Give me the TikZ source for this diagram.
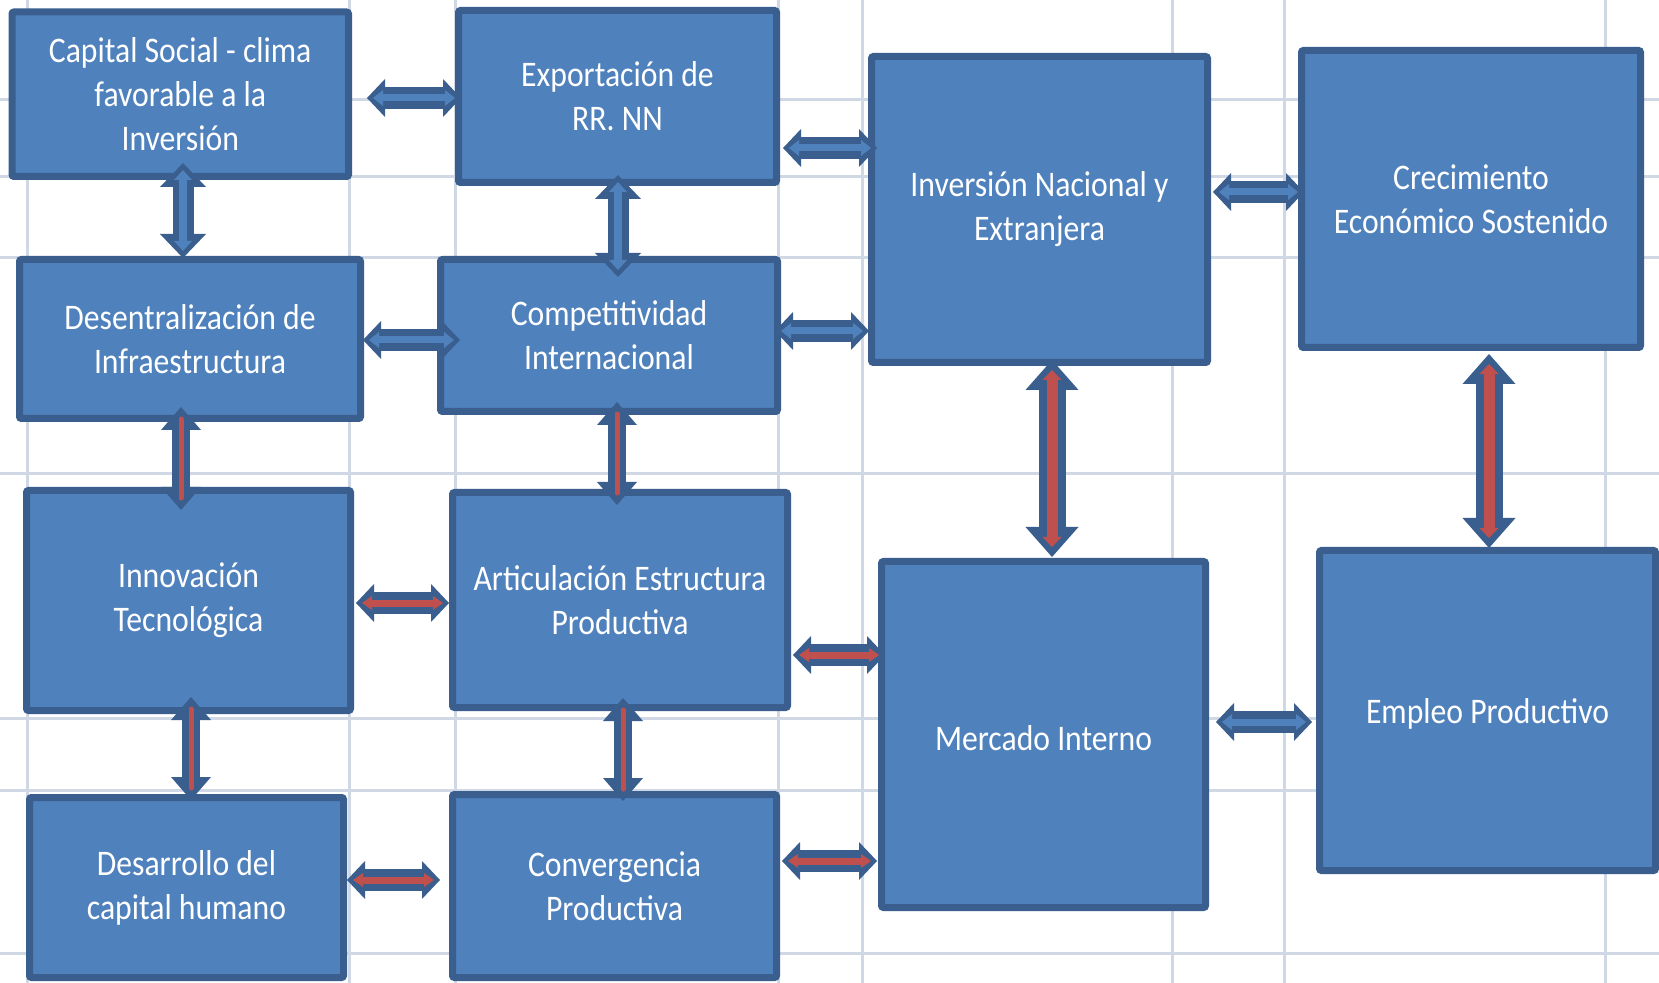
\documentclass[tikz,border=0pt]{standalone}
\usepackage{fontspec}
\setmainfont{Carlito}[FakeStretch=0.88]
\usetikzlibrary{arrows.meta,calc}
\definecolor{boxfill}{HTML}{4F81BD}
\definecolor{boxline}{HTML}{3A5F8E}
\definecolor{linkred}{HTML}{C0504D}
\definecolor{gridc}{HTML}{D0D7E5}
\newcommand\hlink[6]{%
  \draw[#1out] ($(#2.east |- 0,#4)+(#5,0)$) -- ($(#3.west |- 0,#4)+(#6,0)$);
  \draw[#1in]  ($(#2.east |- 0,#4)+(#5,0)$) -- ($(#3.west |- 0,#4)+(#6,0)$);}
\newcommand\vlink[6]{%
  \draw[#1out] ($(#2.south -| #4,0)+(0,#5)$) -- ($(#3.north -| #4,0)+(0,#6)$);
  \draw[#1in]  ($(#2.south -| #4,0)+(0,#5)$) -- ($(#3.north -| #4,0)+(0,#6)$);}
\begin{document}
\begin{tikzpicture}[x=0.5pt,y=-0.5pt,
  box/.style={draw=boxline, fill=boxfill, line width=3.5pt, rounded corners=1pt,
    inner sep=0pt, outer sep=0pt, text=white, align=center,
    font=\fontsize{18pt}{22pt}\selectfont,
    execute at begin node={\rule{0pt}{16pt}}},
  gridline/.style={draw=gridc, line width=1.5pt},
  bhout/.style={draw=boxline, line width=11pt,
    arrows={Triangle[width=19pt,length=9pt,line width=0pt]-Triangle[width=19pt,length=9pt,line width=0pt]}},
  bhin/.style={draw=boxfill, line width=3.5pt, shorten <=3pt, shorten >=3pt,
    arrows={Triangle[width=8pt,length=5pt,line width=0pt]-Triangle[width=8pt,length=5pt,line width=0pt]}},
  rhout/.style={bhout},
  rhin/.style={draw=linkred, line width=3.5pt, shorten <=3pt, shorten >=3pt,
    arrows={Triangle[width=7pt,length=5pt,line width=0pt]-Triangle[width=7pt,length=5pt,line width=0pt]}},
  bvout/.style={draw=boxline, line width=10.5pt,
    arrows={Triangle[width=23pt,length=12pt,line width=0pt]-Triangle[width=23pt,length=12pt,line width=0pt]}},
  bvin/.style={draw=boxfill, line width=4pt, shorten <=3.5pt, shorten >=3.5pt,
    arrows={Triangle[width=9pt,length=5pt,line width=0pt]-Triangle[width=9pt,length=5pt,line width=0pt]}},
  rvout/.style={draw=boxline, line width=9pt,
    arrows={Triangle[width=20pt,length=11.5pt,line width=0pt]-Triangle[width=20pt,length=11.5pt,line width=0pt]}},
  rvin/.style={draw=linkred, line width=2.5pt, line cap=round, shorten <=6pt, shorten >=6pt},
  Rvout/.style={draw=boxline, line width=13.5pt,
    arrows={Triangle[width=26.5pt,length=15pt,line width=0pt]-Triangle[width=26.5pt,length=15pt,line width=0pt]}},
  Rvin/.style={draw=linkred, line width=5.5pt, shorten <=5pt, shorten >=5pt,
    arrows={Triangle[width=9.5pt,length=5pt,line width=0pt]-Triangle[width=9.5pt,length=5pt,line width=0pt]}}
]
\useasboundingbox (0,0) rectangle (1659,983);
\fill[white] (0,0) rectangle (1659,983);
% grid
\foreach \gx in {27,349,455,778,862,1172,1284,1605} \draw[gridline] (\gx,0) -- (\gx,983);
\foreach \gy in {100,177,258,474,718,790,953} \draw[gridline] (0,\gy) -- (1659,\gy);
% boxes
\node[box, minimum width=168.25pt, minimum height=82.25pt] (cap) at (180.25,94.25) {Capital Social - clima\\favorable a la\\Inversión};
\node[box, minimum width=159pt, minimum height=86pt] (exp) at (617.5,96.5) {Exportación de\\RR. NN};
\node[box, minimum width=168pt, minimum height=153pt] (inv) at (1039.5,209.5) {Inversión Nacional y\\Extranjera};
\node[box, minimum width=169.5pt, minimum height=148.5pt] (cre) at (1471,199) {Crecimiento\\Económico Sostenido};
\node[box, minimum width=170.5pt, minimum height=79.5pt] (des) at (190,339) {Desentralización de\\Infraestructura};
\node[box, minimum width=168.5pt, minimum height=76pt] (com) at (609,335.5) {Competitividad\\Internacional};
\node[box, minimum width=162pt, minimum height=110pt] (inn) at (188.5,600.5) {Innovación\\Tecnológica};
\node[box, minimum width=167.5pt, minimum height=107.5pt] (art) at (620,600) {Articulación Estructura\\Productiva};
\node[box, minimum width=162pt, minimum height=173pt] (mer) at (1043.5,734.5) {Mercado Interno};
\node[box, minimum width=168pt, minimum height=160pt] (emp) at (1487.5,710.5) {Empleo Productivo};
\node[box, minimum width=157pt, minimum height=90pt] (dsa) at (186.5,887.5) {Desarrollo del\\capital humano};
\node[box, minimum width=162pt, minimum height=91.5pt] (con) at (614.5,886) {Convergencia\\Productiva};
% links
\hlink{bh}{cap}{exp}{98}{18.5}{2.5}
\hlink{bh}{exp}{inv}{148}{6.5}{5.5}
\vlink{bv}{cap}{des}{183}{-13.5}{-1.5}
\vlink{bv}{exp}{com}{618}{-7.5}{17.5}
\hlink{bh}{des}{com}{340}{2.5}{19.5}
\hlink{bh}{com}{inv}{331}{-2.5}{-2.5}
\hlink{bh}{inv}{cre}{192}{5.5}{2.5}
\hlink{bh}{mer}{emp}{722}{10.5}{-7.5}
\vlink{rv}{des}{inn}{181}{-11.5}{19.5}
\vlink{rv}{com}{art}{617}{-9.5}{12.5}
\hlink{rh}{inn}{art}{603}{5.5}{-3.5}
\hlink{rh}{art}{mer}{655}{5.5}{3.5}
\vlink{rv}{inn}{dsa}{191}{-13.5}{2.5}
\vlink{rv}{art}{con}{623}{-9.5}{6.5}
\hlink{rh}{dsa}{con}{880}{3.5}{-12.5}
\hlink{rh}{con}{mer}{861}{5.5}{-4.5}
\vlink{Rv}{inv}{mer}{1052}{-2.5}{-4.5}
\vlink{Rv}{cre}{emp}{1489}{6.5}{-2.5}
\end{tikzpicture}
\end{document}
